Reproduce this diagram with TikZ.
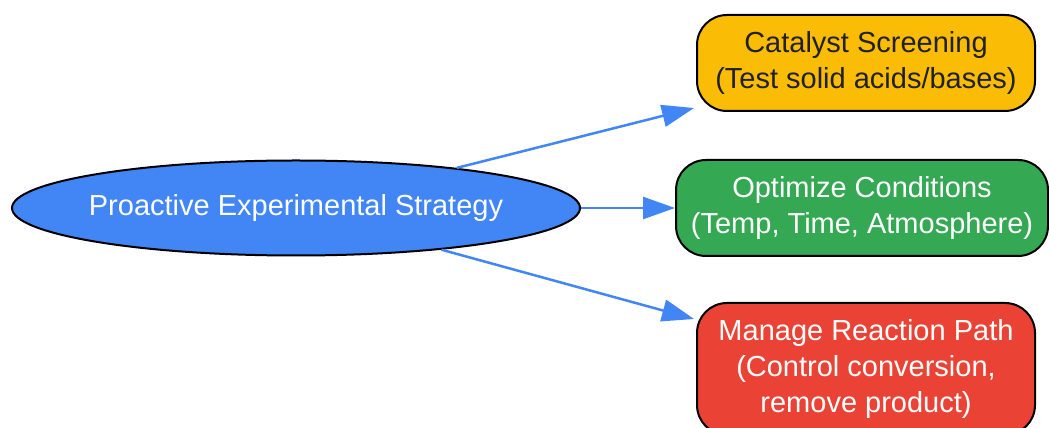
\documentclass[tikz,border=0pt]{standalone}
\usepackage{fontspec}
\setmainfont{Liberation Sans}
\usetikzlibrary{arrows.meta,shapes.geometric,calc}
\definecolor{gblue}{HTML}{4285F4}
\definecolor{gyellow}{HTML}{FBBC05}
\definecolor{ggreen}{HTML}{34A853}
\definecolor{gred}{HTML}{EA4335}
\definecolor{gdark}{HTML}{202124}
\begin{document}
\begin{tikzpicture}[x=1pt, y=1pt,
    every node/.style={font=\fontsize{29}{36}\selectfont, align=center, inner sep=0pt},
    box/.style={draw=black, line width=2pt, rounded corners=30pt, minimum width=338pt, minimum height=96pt},
    link/.style={draw=gblue, line width=2.5pt, -{Triangle[length=32pt,width=22pt]}}]
    \useasboundingbox (0,0) rectangle (1049,428);
    \node[ellipse, draw=black, line width=2pt, fill=gblue, text=white, inner xsep=-20pt,
          minimum width=568pt, minimum height=95pt] (strat) at (296,220) {Proactive Experimental Strategy};
    \node[box, fill=gyellow, text=gdark] (cat) at (866,365) {Catalyst Screening\\(Test solid acids/bases)};
    \node[box, fill=ggreen, text=white, minimum width=372pt] (opt) at (862,220) {Optimize Conditions\\(Temp, Time, Atmosphere)};
    \node[box, fill=gred, text=white, minimum height=132pt] (man) at (866,59) {Manage Reaction Path\\(Control conversion,\\remove product)};
    \coordinate (catin) at ($(cat.south west)+(-2,4)$);
    \coordinate (manin) at ($(man.north west)+(-2,-17)$);
    \draw[link] (strat.14) -- (catin);
    \draw[link] (strat.east) -- (opt.west);
    \draw[link] (strat.-16) -- (manin);
\end{tikzpicture}
\end{document}
